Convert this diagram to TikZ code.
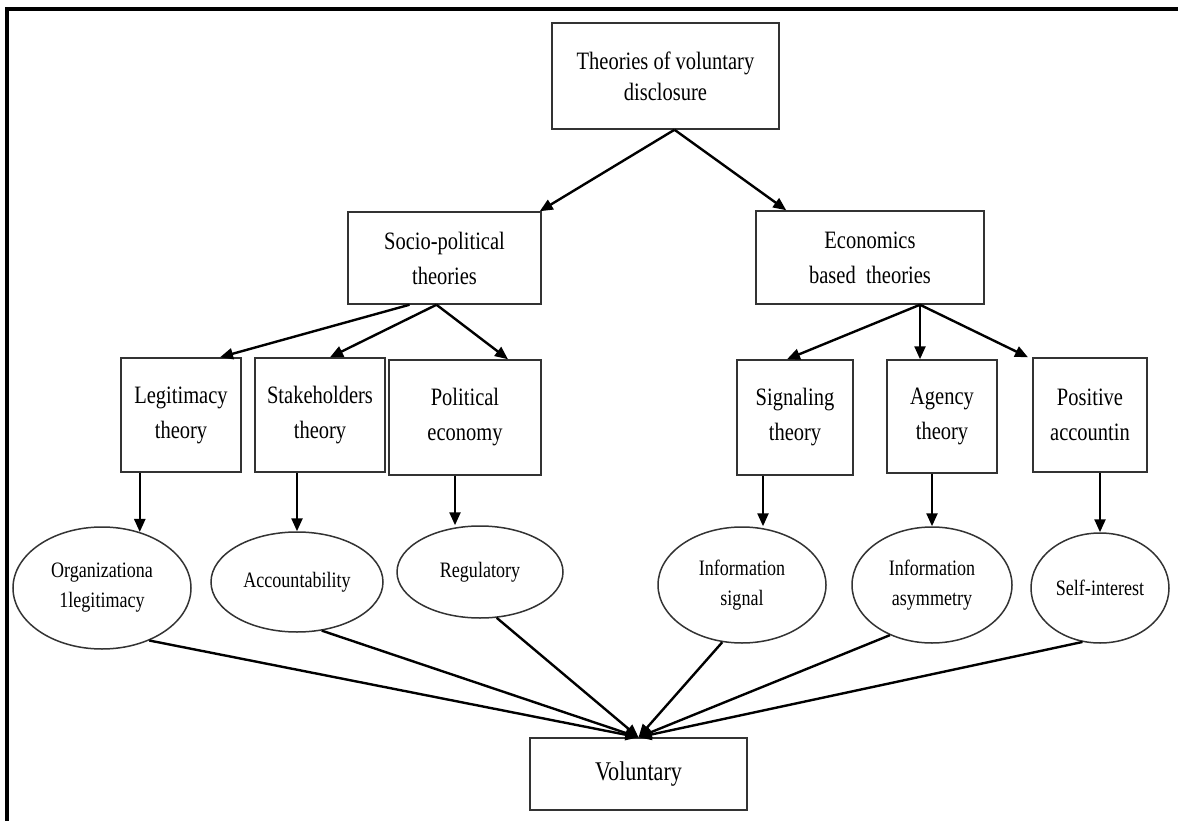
\documentclass[tikz,border=0pt]{standalone}
\usepackage{fontspec}
\setmainfont{Liberation Serif}[FakeStretch=0.82]
\usepackage{tikz}
\usetikzlibrary{arrows.meta, shapes.geometric, positioning, calc}

\begin{document}
\begin{tikzpicture}[x=1pt, y=-1pt,
    theory/.style={draw=black!80, line width=1.5pt, rectangle, inner sep=0pt, align=center, font=\fontsize{25}{35}\selectfont},
    effect/.style={draw=black!80, line width=1.5pt, ellipse, inner sep=0pt, align=center, font=\fontsize{22}{30}\selectfont},
    arr/.style={-{Triangle[length=13pt,width=11pt]}, line width=2.4pt}]
\useasboundingbox (0,0) rectangle (1178,821);
% Frame
\draw[line width=3.5pt] (7,821) -- (7,9) -- (1178,9);
% Theory boxes
\node[theory, minimum width=227, minimum height=106, font=\fontsize{25}{31}\selectfont] (top) at (665.5,76) {Theories of voluntary\\disclosure};
\node[theory, minimum width=193, minimum height=92] (socio) at (444.5,258) {Socio-political\\theories};
\node[theory, minimum width=228, minimum height=93] (econ) at (870,257.5) {Economics\\based \ theories};
\node[theory, minimum width=120, minimum height=114] (legit) at (181,415) {Legitimacy\\theory};
\node[theory, minimum width=130, minimum height=114] (stake) at (320,415) {Stakeholders\\theory};
\node[theory, minimum width=152, minimum height=115] (polit) at (465,417.5) {Political\\economy};
\node[theory, minimum width=116, minimum height=115] (signal) at (795,417.5) {Signaling\\theory};
\node[theory, minimum width=110, minimum height=113] (agency) at (942,416.5) {Agency\\theory};
\node[theory, minimum width=114, minimum height=114] (positive) at (1090,415) {Positive\\accountin};
% Ellipses
\node[effect, minimum width=178, minimum height=122] (orgleg) at (102,588) {Organizationa\\1legitimacy};
\node[effect, minimum width=172, minimum height=100] (account) at (297,582) {Accountability};
\node[effect, minimum width=166, minimum height=92] (regul) at (480,572) {Regulatory};
\node[effect, minimum width=168, minimum height=116] (infosig) at (742,585) {Information\\signal};
\node[effect, minimum width=160, minimum height=116] (infoasym) at (932,585) {Information\\asymmetry};
\node[effect, minimum width=138, minimum height=110] (selfint) at (1100,588) {Self-interest};
\node[theory, minimum width=217, minimum height=72, font=\fontsize{27}{30}\selectfont] (vol) at (638.5,774) {Voluntary};
% Top arrows
\draw[arr] ([xshift=9]top.south) -- ([xshift=-2]socio.north east);
\draw[arr] ([xshift=9]top.south) -- ([xshift=31]econ.north west);
\draw[arr] ([xshift=-35]socio.south) -- ([xshift=39]legit.north);
\draw[arr] ([xshift=-8]socio.south) -- ([xshift=10]stake.north);
\draw[arr] ([xshift=-8]socio.south) -- ([xshift=43]polit.north);
\draw[arr] ([xshift=50]econ.south) -- ([xshift=-8]signal.north);
\draw[arr] ([xshift=50]econ.south) -- ([xshift=-22]agency.north);
\draw[arr] ([xshift=50]econ.south) -- ([xshift=-62]positive.north);
% Down to ellipses
\draw[arr] (legit.south -| orgleg.56) -- (orgleg.56);
\draw[arr] (stake.south -| account.north) -- (account.north);
\draw[arr] ([xshift=-10]polit.south) -- ([xshift=-10]polit.south |- regul.north);
\draw[arr] ([xshift=-32]signal.south) -- ([xshift=-32]signal.south |- infosig.north);
\draw[arr] (agency.south -| infoasym.north) -- (infoasym.north);
\draw[arr] (positive.south -| selfint.north) -- (selfint.north);
% Converging on voluntary
\foreach \e/\a in {orgleg/312, account/297, regul/290, infosig/251, infoasym/230, selfint/252}
  \draw[arr] (\e.\a) -- (vol.north);
\end{tikzpicture}
\end{document}
